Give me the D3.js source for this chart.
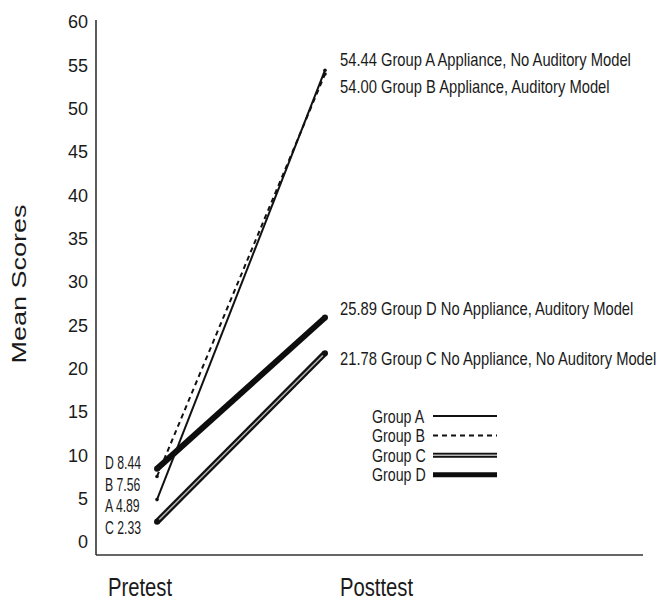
<!DOCTYPE html>
<html>
<head>
<meta charset="utf-8">
<script src="https://cdn.jsdelivr.net/npm/d3@7"></script>
<style>
  body { margin: 0; background: #fff; }
  text { font-family: "Liberation Sans", Arial, Helvetica, sans-serif; fill: #1a1a1a; }
</style>
</head>
<body>
<div id="chart-area"></div>
<script>
// Data
var phases = ["Pretest", "Posttest"];
var groups = ["A", "B", "C", "D"];
var pretest = [4.89, 7.56, 2.33, 8.44];
var posttest = [54.44, 54.00, 21.78, 25.89];
var conditions = [
    "Appliance, No Auditory Model",
    "Appliance, Auditory Model",
    "No Appliance, No Auditory Model",
    "No Appliance, Auditory Model"
];
var yTicks = [0, 5, 10, 15, 20, 25, 30, 35, 40, 45, 50, 55, 60];

var width = 659, height = 603;

var svg = d3.select("#chart-area")
    .append("svg")
        .attr("width", width)
        .attr("height", height);

// Scales
var x = d3.scalePoint().domain(phases).range([157, 325]);
var xLab = d3.scalePoint().domain(phases).range([108, 340]);
var y = d3.scaleLinear().domain([-1.5, 60]).range([555, 22]);

// squeezed text, the original type is narrow
function addText(parent, tx, ty, str, size, sx) {
    return parent.append("text")
        .attr("transform", "translate(" + tx + "," + ty + ") scale(" + sx + ",1)")
        .attr("font-size", size + "px")
        .text(str);
}

// Y axis
var yAxisCall = d3.axisLeft(y)
    .tickValues(yTicks)
    .tickSize(0)
    .tickPadding(8);
var yAxis = svg.append("g")
    .attr("transform", "translate(96,0)")
    .call(yAxisCall);
yAxis.select(".domain").remove();
yAxis.selectAll("text")
    .attr("font-size", "18px")
    .attr("font-family", "Liberation Sans, Arial, sans-serif")
    .attr("fill", "#1a1a1a");

// axis lines
svg.append("line")
    .attr("x1", 96).attr("x2", 96)
    .attr("y1", y(60) - 2).attr("y2", y(-1.5))
    .attr("stroke", "#333").attr("stroke-width", 1.6);
svg.append("line")
    .attr("x1", 96).attr("x2", 643)
    .attr("y1", y(-1.5)).attr("y2", y(-1.5))
    .attr("stroke", "#333").attr("stroke-width", 1.6);

// X labels
phases.forEach(function(p){
    addText(svg, xLab(p), 596, p, 25, 0.81);
});

// Y label
svg.append("text")
    .attr("transform", "translate(26,284) rotate(-90) scale(1,0.75)")
    .attr("font-size", "27px")
    .attr("text-anchor", "middle")
    .text("Mean Scores");

// line styles per group
var styles = {
    A: [{ w: 2, c: "#111", dash: null }],
    B: [{ w: 2, c: "#111", dash: "5,4" }],
    C: [{ w: 6, c: "#111", dash: null }, { w: 1.5, c: "#b5b5b5", dash: null }],
    D: [{ w: 6, c: "#0d0d0d", dash: null }]
};

var lineGen = d3.line()
    .x(function(d){ return x(d.phase); })
    .y(function(d){ return y(d.value); });

var order = ["C", "D", "A", "B"];
order.forEach(function(gName){
    var i = groups.indexOf(gName);
    var pts = [
        { phase: "Pretest", value: pretest[i] },
        { phase: "Posttest", value: posttest[i] }
    ];
    styles[gName].forEach(function(s){
        svg.append("path")
            .datum(pts)
            .attr("d", lineGen)
            .attr("fill", "none")
            .attr("stroke", s.c)
            .attr("stroke-width", s.w)
            .attr("stroke-dasharray", s.dash);
    });
    svg.selectAll(null)
        .data(pts)
        .enter()
        .append("circle")
            .attr("cx", function(d){ return x(d.phase); })
            .attr("cy", function(d){ return y(d.value); })
            .attr("r", gName == "C" || gName == "D" ? 3 : 1.8)
            .attr("fill", "#111");
});

// Posttest annotations
var postDy = { A: -4, B: 19, C: 12, D: -3 };
groups.forEach(function(gName, i){
    addText(svg, 340, y(posttest[i]) + postDy[gName],
        d3.format(".2f")(posttest[i]) + " Group " + gName + " " + conditions[i], 18, 0.82);
});

// Pretest annotations, stacked high to low
var preOrder = groups.map(function(g, i){ return i; })
    .sort(function(a, b){ return pretest[b] - pretest[a]; });
preOrder.forEach(function(i, k){
    addText(svg, 105, y(pretest[preOrder[0]]) + k * 21.7,
        groups[i] + " " + d3.format(".2f")(pretest[i]), 18, 0.68);
});

// Legend
var legend = svg.append("g")
    .attr("transform", "translate(372,416)");
groups.forEach(function(gName, i){
    var row = legend.append("g")
        .attr("transform", "translate(0," + (i * 19.6) + ")");
    addText(row, 0, 6.5, "Group " + gName, 18, 0.79);
    styles[gName].forEach(function(s){
        row.append("line")
            .attr("x1", 61).attr("x2", 125)
            .attr("y1", 0).attr("y2", 0)
            .attr("stroke", s.c)
            .attr("stroke-width", s.w > 3 ? 5 : s.w)
            .attr("stroke-dasharray", s.dash);
    });
});
</script>
</body>
</html>
